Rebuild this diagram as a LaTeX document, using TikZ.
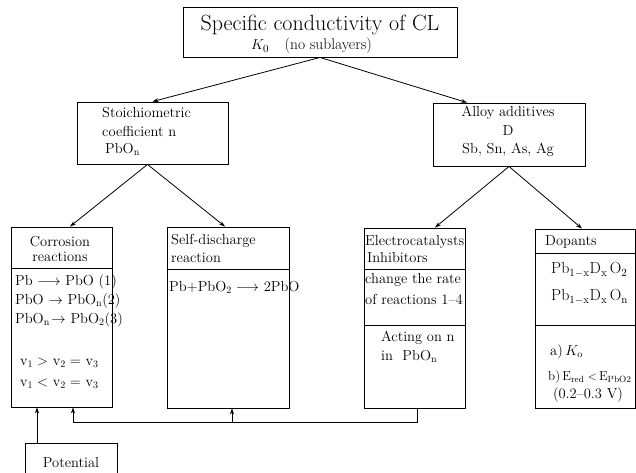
\documentclass[tikz,border=0pt]{standalone}
\usetikzlibrary{arrows.meta}
\tikzset{
  box/.style={draw, line width=0.9pt, inner sep=0pt},
  txt/.style={anchor=west, inner sep=0pt, font=\fontsize{14.5}{17}\selectfont},
  ctxt/.style={inner sep=0pt, font=\fontsize{14.5}{17}\selectfont},
  link/.style={line width=0.8pt},
  arr/.style={line width=0.8pt, -{Stealth[length=6pt,width=4pt]}}
}

\begin{document}
\begin{tikzpicture}[x=1pt,y=-1pt]
        \clip (0,0) rectangle (636,472);
        % Top box
        \node[box, minimum width=274, minimum height=50] (top) at (320,32) {};
        \node[ctxt, font=\fontsize{22}{26}\selectfont] (title) at (320,25) {Specific conductivity of CL};
        \node[txt, font=\fontsize{15.5}{18}\selectfont] (kappa) at (251,46) {$K_0$\quad(no sublayers)};
        % Second level
        \node[box, minimum width=151, minimum height=62] (stoi) at (152.5,133) {};
        \node[txt] (stoiA) at (102,113) {Stoichiometric};
        \node[txt] (stoiB) at (102,131) {coefficient n};
        \node[txt] (stoiC) at (105,149) {PbO$_{\mathrm n}$};
        \node[box, minimum width=152, minimum height=63] (alloy) at (509,134.5) {};
        \node[ctxt] (alloyA) at (508,113) {Alloy additives};
        \node[ctxt] (alloyB) at (508,131) {D};
        \node[ctxt] (alloyC) at (508,150) {Sb, Sn, As, Ag};
        % Corrosion
        \node[box, minimum width=101, minimum height=180] (corr) at (61.5,317) {};
        \draw[link] (corr.west |- 0,268) -- (corr.east |- 0,268);
        \node[ctxt] (corrA) at (60,242) {Corrosion};
        \node[ctxt] (corrB) at (60,257) {reactions};
        \node[txt] (r1) at (15,282) {Pb $\longrightarrow$ PbO\ (1)};
        \node[txt] (r2) at (15,301) {PbO $\rightarrow$ PbO$_{\mathrm n}$(2)};
        \node[txt] (r3) at (15,320) {PbO$_{\mathrm n}\!\rightarrow$ PbO$_2$(3)};
        \node[txt] (v1) at (20,363) {v$_1>$ v$_2=$ v$_3$};
        \node[txt] (v2) at (20,384) {v$_1<$ v$_2=$ v$_3$};
        % Self-discharge
        \node[box, minimum width=122, minimum height=181] (self) at (228,317.5) {};
        \draw[link] (self.west |- 0,269) -- (self.east |- 0,269);
        \node[txt] (selfA) at (171,241) {Self-discharge};
        \node[txt] (selfB) at (171,258) {reaction};
        \node[txt] (sd) at (169,287) {Pb+PbO$_2\longrightarrow$ 2PbO};
        % Electrocatalysts
        \node[box, minimum width=101, minimum height=180] (elec) at (414.5,318) {};
        \draw[link] (elec.west |- 0,269) -- (elec.east |- 0,269);
        \draw[link] (elec.west |- 0,325) -- (elec.east |- 0,325);
        \node[txt] (elA) at (365,242) {Electrocatalysts};
        \node[txt] (elB) at (367,258) {Inhibitors};
        \node[txt] (elC) at (365,280) {change the rate};
        \node[txt] (elD) at (365,299) {of reactions 1--4};
        \node[txt] (elE) at (381,338) {Acting on n};
        \node[txt] (elF) at (381,356) {in\ \ PbO$_{\mathrm n}$};
        % Dopants
        \node[box, minimum width=100, minimum height=179] (dop) at (585,318.5) {};
        \draw[link] (dop.west |- 0,253) -- (dop.east |- 0,253);
        \draw[link] (dop.west |- 0,325) -- (dop.east |- 0,325);
        \node[txt] (dopA) at (545,242) {Dopants};
        \node[txt, font=\fontsize{16}{19}\selectfont] (dopB) at (551,270) {Pb$_{\mathrm{1-x}}$D$_{\mathrm x}$\,O$_2$};
        \node[txt, font=\fontsize{16}{19}\selectfont] (dopC) at (551,297) {Pb$_{\mathrm{1-x}}$D$_{\mathrm x}$\,O$_{\mathrm n}$};
        \node[txt] (dopD) at (550,352) {a)\,$K_{\mathrm o}$};
        \node[txt, font=\fontsize{13}{15}\selectfont] (dopE) at (548,377) {b)\,E$_{\mathrm{red}}<$\,E$_{\mathrm{PbO2}}$};
        \node[ctxt] (dopF) at (588,395) {(0.2--0.3 V)};
        % Potential
        \node[box, minimum width=92, minimum height=40] (pot) at (71,463) {};
        \node[ctxt] (potA) at (71,463) {Potential};
        % Tree arrows
        \draw[arr] (top.south) -- (stoi.north);
        \draw[arr] (top.south) -- ([xshift=-42pt]alloy.north);
        \draw[arr] ([xshift=-5pt]stoi.south) -- ([xshift=8.5pt]corr.north);
        \draw[arr] ([xshift=-5pt]stoi.south) -- ([xshift=-3pt]self.north);
        \draw[arr] (alloy.south) -- ([xshift=20.5pt]elec.north);
        \draw[arr] (alloy.south) -- ([xshift=-3pt]dop.north);
        % Feedback
        \coordinate (fb) at (0,422);
        \draw[arr] ([xshift=2.5pt]elec.south) |- ([xshift=11.5pt]corr.south |- fb) -- ([xshift=11.5pt]corr.south);
        \draw[arr] ([xshift=4pt]self.south |- fb) -- ([xshift=4pt]self.south);
        \draw[arr] ([xshift=-34pt]pot.north) -- ([xshift=-24.5pt]corr.south);
      \end{tikzpicture}
\end{document}
